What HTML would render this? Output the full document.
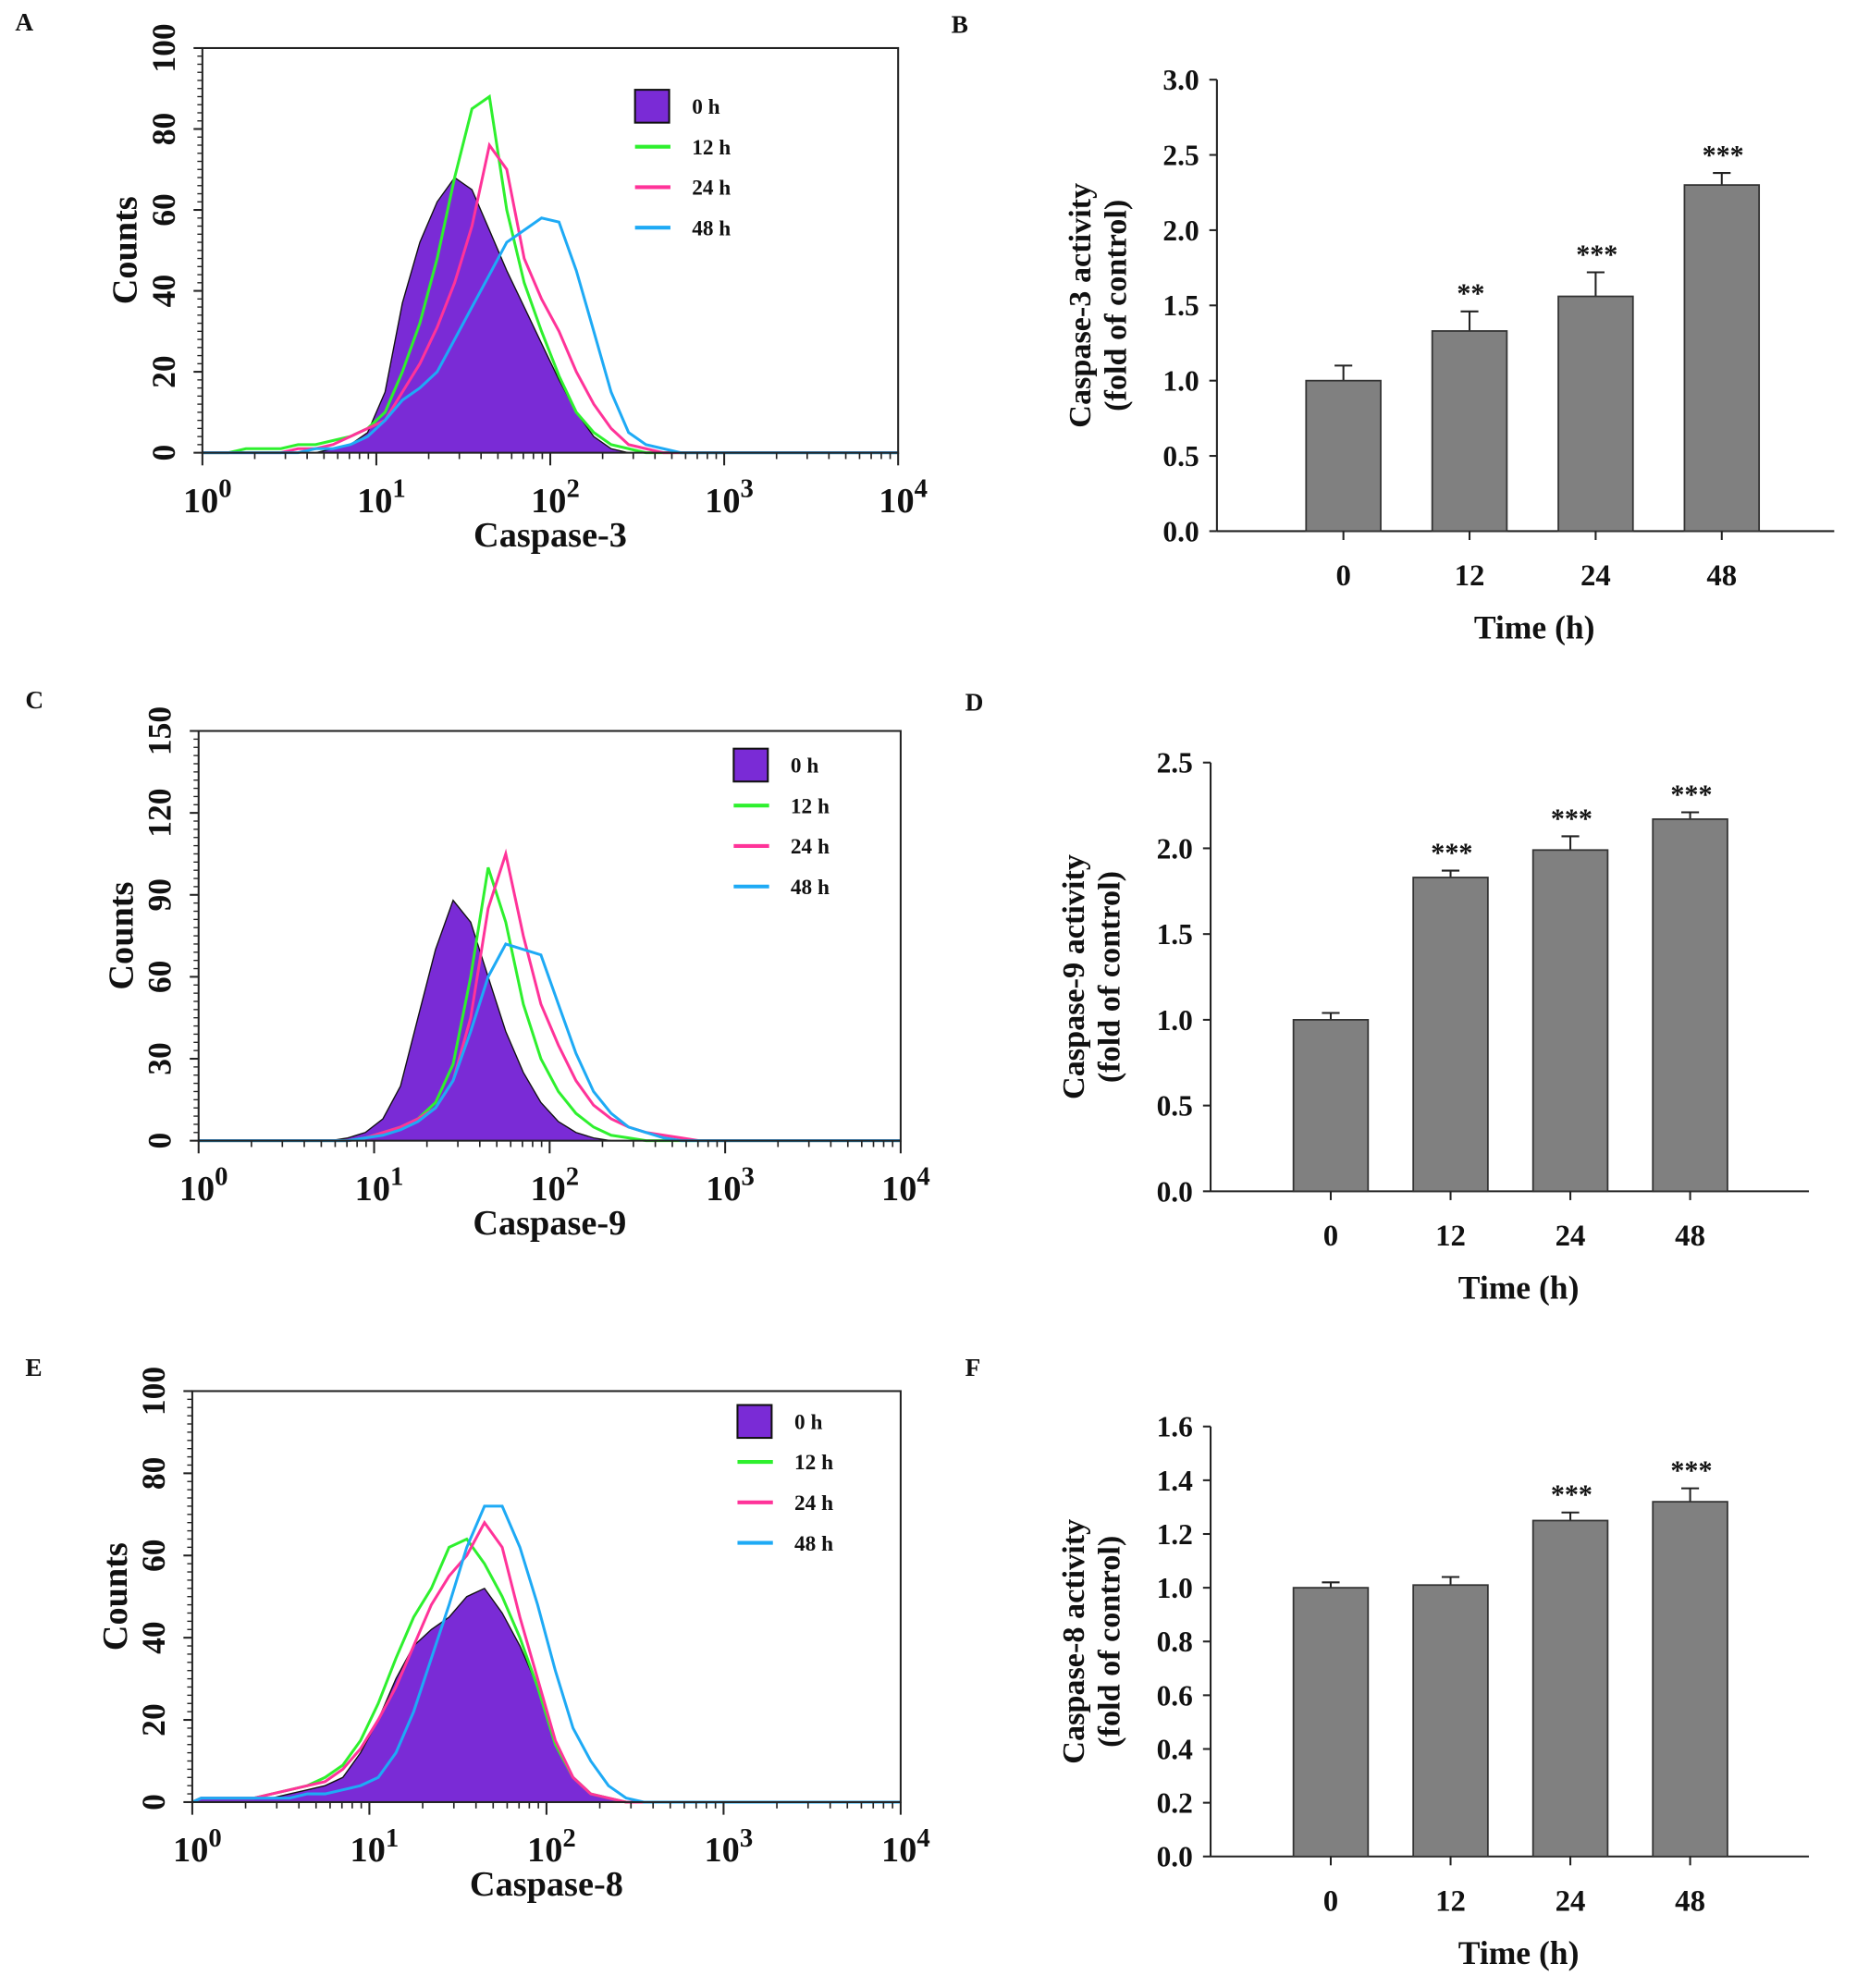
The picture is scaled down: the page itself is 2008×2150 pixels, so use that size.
<!DOCTYPE html>
<html><head><meta charset="utf-8"><style>
html,body{margin:0;padding:0;background:#fff}
svg{display:block}
text{font-family:"Liberation Serif",serif;font-weight:bold;fill:#111}
</style></head><body>
<svg id="fig" width="2008" height="2150" viewBox="0 0 1468 1572" preserveAspectRatio="none" xmlns="http://www.w3.org/2000/svg">
<g id="root"></g>
</svg>
<script>
// ---------- data ----------
const logBins = [0.0,0.1,0.2,0.3,0.4,0.5,0.6,0.7,0.8,0.9,1.0,1.1,1.2,1.3,1.4,1.5,1.6,1.7,1.8,1.9,2.0,2.1,2.2,2.3,2.4,2.5,2.6,2.7,2.8,2.9];
const seriesNames = ["0 h","12 h","24 h","48 h"];
const casp3_0h  = [0,0,0,0,0,0,0,1,2,5,15,37,52,62,68,65,55,45,36,27,18,10,4,1,0,0,0,0,0,0];
const casp3_12h = [0,0,1,1,1,2,2,3,4,6,10,20,32,48,68,85,88,60,42,30,19,10,5,2,1,0,0,0,0,0];
const casp3_24h = [0,0,0,0,0,1,1,2,4,6,8,15,22,31,42,56,76,70,48,38,30,20,12,6,2,1,0,0,0,0];
const casp3_48h = [0,0,0,0,0,0,1,1,2,4,8,13,16,20,28,36,44,52,55,58,57,45,30,15,5,2,1,0,0,0];
const casp9_0h  = [0,0,0,0,0,0,0,0,1,3,8,20,45,70,88,80,60,40,25,14,7,3,1,0,0,0,0,0,0,0];
const casp9_12h = [0,0,0,0,0,0,0,0,0,1,3,5,8,14,28,60,100,80,50,30,18,10,5,2,1,0,0,0,0,0];
const casp9_24h = [0,0,0,0,0,0,0,0,0,1,3,5,8,12,22,45,85,105,75,50,35,22,13,8,5,3,2,1,0,0];
const casp9_48h = [0,0,0,0,0,0,0,0,0,1,2,4,7,12,22,40,60,72,70,68,50,32,18,10,5,3,1,0,0,0];
const casp8_0h  = [1,1,1,1,1,2,3,4,6,12,20,30,38,42,45,50,52,46,38,28,14,6,2,1,0,0,0,0,0,0];
const casp8_12h = [1,1,1,1,2,3,4,6,9,15,24,35,45,52,62,64,58,50,40,28,14,6,2,1,0,0,0,0,0,0];
const casp8_24h = [1,1,1,1,2,3,4,5,8,13,20,28,38,48,55,60,68,62,45,30,15,6,2,1,0,0,0,0,0,0];
const casp8_48h = [1,1,1,1,1,1,2,2,3,4,6,12,22,35,48,62,72,72,62,48,32,18,10,4,1,0,0,0,0,0];

const timeCats = ["0","12","24","48"];
const casp3Act = [1.0,1.33,1.56,2.30];
const casp3Err = [0.10,0.13,0.16,0.08];
const casp3Sig = ["","**","***","***"];
const casp9Act = [1.0,1.83,1.99,2.17];
const casp9Err = [0.04,0.04,0.08,0.04];
const casp9Sig = ["","***","***","***"];
const casp8Act = [1.0,1.01,1.25,1.32];
const casp8Err = [0.02,0.03,0.03,0.05];
const casp8Sig = ["","","***","***"];
const ticks3 = ["0.0","0.5","1.0","1.5","2.0","2.5","3.0"];
const ticks9 = ["0.0","0.5","1.0","1.5","2.0","2.5"];
const ticks8 = ["0.0","0.2","0.4","0.6","0.8","1.0","1.2","1.4","1.6"];
const histTicksA = [0,20,40,60,80,100];
const histTicksC = [0,30,60,90,120,150];
const histTicksE = [0,20,40,60,80,100];

const colors = ["#7a2bd6","#2ef02e","#ff3399","#1eaaf5"];
const NS = "http://www.w3.org/2000/svg";
const root = document.getElementById("root");
function el(tag, attrs, parent, txt){
  const e = document.createElementNS(NS, tag);
  for (const k in attrs) e.setAttribute(k, attrs[k]);
  if (txt !== undefined) e.textContent = txt;
  (parent||root).appendChild(e);
  return e;
}

function histPanel(id, letter, lx, ly, box, ymax, yticks, xlabel, series, legend){
  const g = el("g", {});
  
  
  const pl = el("text", {x:lx, y:ly, "font-size":20}, g, letter);
  
  
  const dec = (box.x1 - box.x0) / 4;
  const xs = v => box.x0 + v * dec;
  const ys = v => box.y1 - v / ymax * (box.y1 - box.y0);
  series.forEach((arr, si) => {
    let d = "M" + xs(0) + "," + ys(0);
    arr.forEach((v, i) => {
      d += " L" + xs(logBins[i] + 0.05).toFixed(1) + "," + ys(v).toFixed(1);
    });
    d += " L" + xs(4) + "," + ys(0);
    const p = el("path", si === 0
      ? {d: d + " Z", fill: colors[0], stroke: "#111", "stroke-width": 1}
      : {d: d, fill: "none", stroke: colors[si], "stroke-width": 2.2}, g);
    
    
  });
  const fr = el("rect", {x:box.x0, y:box.y0, width:box.x1-box.x0, height:box.y1-box.y0, fill:"none", stroke:"#222", "stroke-width":1.5}, g);
  
  
  yticks.forEach(t => {
    const y = ys(t);
    el("line", {x1:box.x0-7, x2:box.x0, y1:y, y2:y, stroke:"#222", "stroke-width":1.5}, g);
    const tl = el("text", {x:0, y:0, "font-size":26, "text-anchor":"middle", transform:"translate(" + (box.x0-22) + "," + y + ") rotate(-90)"}, g, String(t));
    
    
  });
  for (let k = 0; k <= 50; k++) {
    const y = box.y1 - k * (box.y1 - box.y0) / 50;
    el("line", {x1:box.x0-4, x2:box.x0, y1:y, y2:y, stroke:"#222", "stroke-width":1}, g);
  }
  for (let d = 0; d < 4; d++) {
    for (let m = 2; m <= 9; m++) {
      const x = xs(d + Math.log10(m));
      el("line", {x1:x, x2:x, y1:box.y1, y2:box.y1+5, stroke:"#222", "stroke-width":1.2}, g);
    }
  }
  for (let d = 0; d <= 4; d++) {
    const x = xs(d);
    el("line", {x1:x, x2:x, y1:box.y1, y2:box.y1+10, stroke:"#222", "stroke-width":1.5}, g);
    const t = el("text", {x:x+4, y:box.y1+47, "font-size":28, "text-anchor":"middle"}, g);
    
    
    el("tspan", {}, t, "10");
    el("tspan", {dy:-12, "font-size":21}, t, String(d));
  }
  const xt = el("text", {x:(box.x0+box.x1)/2, y:box.y1+74, "font-size":28, "text-anchor":"middle"}, g, xlabel);
  
  
  const yt = el("text", {x:0, y:0, "font-size":28, "text-anchor":"middle", transform:"translate(" + (box.x0-52) + "," + ((box.y0+box.y1)/2) + ") rotate(-90)"}, g, "Counts");
  
  
  const lg = el("g", {}, g);
  
  
  seriesNames.forEach((n, i) => {
    const y = legend.y + i * 32;
    if (i === 0) el("rect", {x:legend.x, y:y-13, width:27, height:26, fill:colors[0], stroke:"#111", "stroke-width":1.5}, lg);
    else el("line", {x1:legend.x, x2:legend.x+28, y1:y, y2:y, stroke:colors[i], "stroke-width":3}, lg);
    const lt = el("text", {x:legend.x+45, y:y+6, "font-size":17}, lg, n);
    
    
  });
}

function barPanel(id, letter, lx, ly, ax, ymax, ticks, vals, errs, sigs, ytitle){
  const g = el("g", {});
  
  
  const pl = el("text", {x:lx, y:ly, "font-size":20}, g, letter);
  
  
  const ys = v => ax.y1 - v / ymax * (ax.y1 - ax.y0);
  const xs = i => ax.c0 + i * ax.step;
  el("line", {x1:ax.x0, x2:ax.x0, y1:ax.y0, y2:ax.y1, stroke:"#222", "stroke-width":1.5}, g);
  el("line", {x1:ax.x0, x2:ax.x1, y1:ax.y1, y2:ax.y1, stroke:"#222", "stroke-width":1.5}, g);
  ticks.forEach(t => {
    const y = ys(parseFloat(t));
    el("line", {x1:ax.x0-6, x2:ax.x0, y1:y, y2:y, stroke:"#222", "stroke-width":1.5}, g);
    const tl = el("text", {x:ax.x0-14, y:y+8, "font-size":23, "text-anchor":"end"}, g, t);
    
    
  });
  vals.forEach((v, i) => {
    const cx = xs(i), w = 59;
    const top = ys(v + errs[i]);
    el("line", {x1:cx, x2:cx, y1:ys(v), y2:top, stroke:"#222", "stroke-width":1.5}, g);
    el("line", {x1:cx-7, x2:cx+7, y1:top, y2:top, stroke:"#222", "stroke-width":1.5}, g);
    const b = el("rect", {x:cx-w/2, y:ys(v), width:w, height:ys(0)-ys(v), fill:"#808080", stroke:"#333", "stroke-width":1.3}, g);
    
    
    if (sigs[i]) {
      const s = el("text", {x:cx+1, y:top-7, "font-size":22, "font-weight":"normal", "text-anchor":"middle", fill:"#333"}, g, sigs[i]);
      
      
    }
    el("line", {x1:cx, x2:cx, y1:ax.y1, y2:ax.y1+7, stroke:"#222", "stroke-width":1.5}, g);
    const xl = el("text", {x:cx, y:ax.y1+43, "font-size":24, "text-anchor":"middle"}, g, timeCats[i]);
    
    
  });
  const xt = el("text", {x:(ax.x0+ax.x1)/2 + 7, y:ax.y1+85, "font-size":26, "text-anchor":"middle"}, g, "Time (h)");
  
  
  const cy = (ax.y0 + ax.y1) / 2;
  const y1 = el("text", {x:0, y:0, "font-size":25, "text-anchor":"middle", transform:"translate(" + (ax.x0-100) + "," + cy + ") rotate(-90)"}, g, ytitle);
  
  
  const y2 = el("text", {x:0, y:0, "font-size":25, "text-anchor":"middle", transform:"translate(" + (ax.x0-72) + "," + cy + ") rotate(-90)"}, g, "(fold of control)");
  
  
}

histPanel("histogram-caspase-3", "A", 12, 24, {x0:160, x1:710, y0:38, y1:358}, 100, histTicksA, "Caspase-3",
  [casp3_0h, casp3_12h, casp3_24h, casp3_48h], {x:502, y:84});
histPanel("histogram-caspase-9", "C", 20, 560, {x0:157, x1:712, y0:578, y1:902}, 150, histTicksC, "Caspase-9",
  [casp9_0h, casp9_12h, casp9_24h, casp9_48h], {x:580, y:605});
histPanel("histogram-caspase-8", "E", 20, 1088, {x0:152, x1:712, y0:1100, y1:1425}, 100, histTicksE, "Caspase-8",
  [casp8_0h, casp8_12h, casp8_24h, casp8_48h], {x:583, y:1124});

barPanel("bar-chart-caspase-3", "B", 752, 26, {x0:962, x1:1450, y0:63, y1:420, c0:1062, step:99.7}, 3.0, ticks3, casp3Act, casp3Err, casp3Sig, "Caspase-3 activity");
barPanel("bar-chart-caspase-9", "D", 763, 562, {x0:957, x1:1430, y0:603, y1:942, c0:1052, step:94.7}, 2.5, ticks9, casp9Act, casp9Err, casp9Sig, "Caspase-9 activity");
barPanel("bar-chart-caspase-8", "F", 763, 1088, {x0:957, x1:1430, y0:1128, y1:1468, c0:1052, step:94.7}, 1.6, ticks8, casp8Act, casp8Err, casp8Sig, "Caspase-8 activity");
</script>
</body></html>
